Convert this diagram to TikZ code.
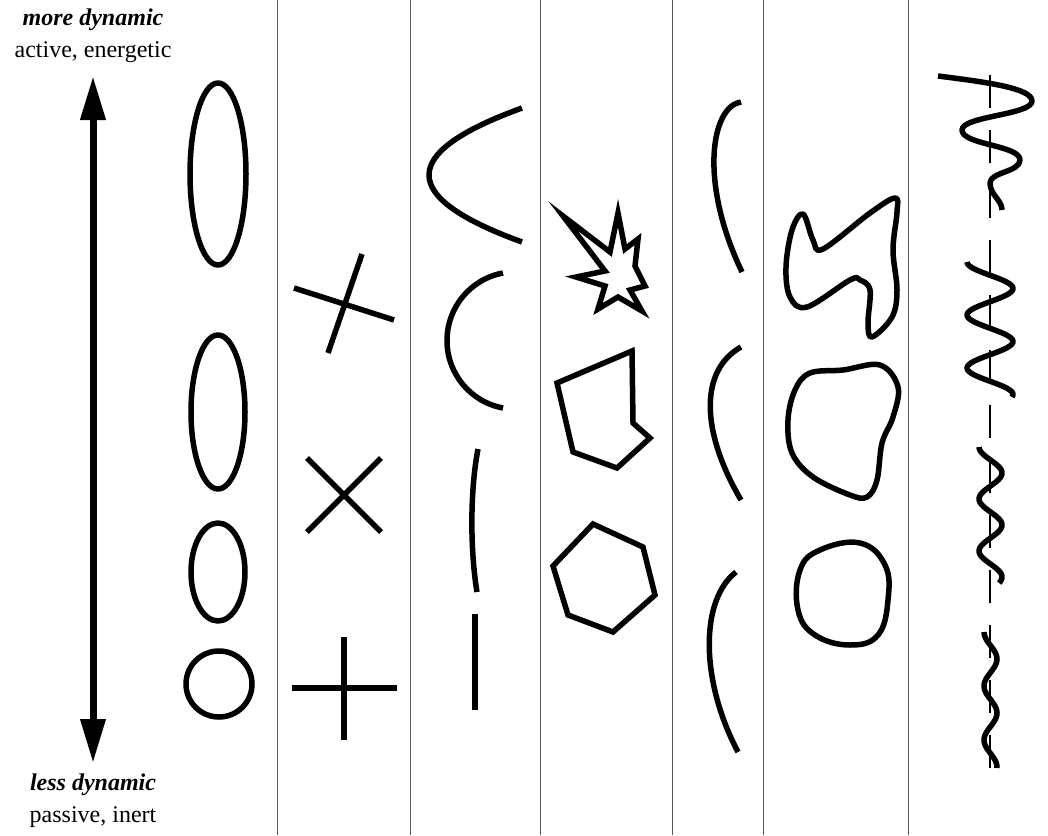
\documentclass[tikz,border=0pt]{standalone}
\usepackage{fontspec}
\setmainfont{Liberation Serif}
\usetikzlibrary{arrows.meta}
\begin{document}
\begin{tikzpicture}[x=1pt,y=-1pt,
  shp/.style={line width=5.5pt, line join=round, line cap=butt},
  poly/.style={line width=5.5pt, line join=miter},
  divider/.style={line width=1pt, draw=black!65},
  lbl/.style={anchor=base, inner sep=0pt, font=\fontsize{24}{28}\selectfont},
  ttl/.style={anchor=base, inner sep=0pt, font=\fontsize{24}{28}\selectfont\bfseries\itshape},
  bigarrow/.style={line width=7pt, {Triangle[length=44pt,width=24pt]}-{Triangle[length=44pt,width=24pt]}},
]
\useasboundingbox (0,0) rectangle (1048,835);
% labels
\node[ttl] (t1) at (93,25) {more dynamic};
\node[lbl] (t2) at (93,57) {active, energetic};
\node[ttl] (b1) at (93,790) {less dynamic};
\node[lbl] (b2) at (93,822) {passive, inert};
% arrow
\coordinate (atop) at (93,76);
\coordinate (abot) at (93,763);
\draw[bigarrow] (atop) -- (abot);
% dividers
\foreach \x in {277,410,540,672,763,908} \draw[divider] (\x,0) -- (\x,835);
% column 1: ellipses
\draw[shp] (218,174) ellipse [x radius=28, y radius=91];
\draw[shp] (218,412) ellipse [x radius=27, y radius=77];
\draw[shp] (218,572) ellipse [x radius=27, y radius=49];
\draw[shp] (219,684) circle [radius=33];
% column 2: crosses
\draw[shp] (294,288) -- (394,320) (362,254) -- (328,353);
\draw[shp] (307,458) -- (381,532) (381,458) -- (307,532);
\draw[shp] (344,637) -- (344,740) (292,688) -- (397,688);
% column 3: curves
\draw[shp] (522,108) .. controls (398,153) and (398,197) .. (522,242);
\draw[shp] (503,273) .. controls (470.5,279) and (447,307.4) .. (447,340.5) .. controls (447,373.6) and (470.5,402) .. (503,408);
\draw[shp] (478,449) .. controls (470,490) and (470,550) .. (477,592);
\draw[shp] (475,614) -- (475,710);
% column 4: polygons
\draw[poly] (563,216) -- (610,252) -- (618,213) -- (625,249) -- (638,239) -- (635,266) -- (645,286) -- (630,290) -- (642,311) -- (618,297) -- (598,309) -- (605,286) -- (576,277) -- (605,271) -- cycle;
\draw[poly] (632,351) -- (557,383) -- (573,452) -- (617,468) -- (650,438) -- (633,423) -- cycle;
\draw[poly] (593,524) -- (643,547) -- (655,595) -- (613,632) -- (568,615) -- (553,566) -- cycle;
% column 5: arcs
\draw[shp] (741,102) .. controls (712,106) and (698,180) .. (742,272);
\draw[shp] (741,347) .. controls (700,370) and (700,430) .. (741,500);
\draw[shp] (736,572) .. controls (700,600) and (700,680) .. (738,752);
% column 6: blobs
\draw[shp] plot[smooth cycle, tension=0.6] coordinates {(803,214) (813,240) (823,249) (870,213) (895,198) (897,212) (893,250) (897,290) (892,317) (872,337) (868,323) (870,290) (860,280) (850,280) (807,307) (790,297) (786,267) (792,230)};
\draw[shp] plot[smooth cycle, tension=0.6] coordinates {(810,373) (843,370) (880,365) (898,387) (893,417) (882,443) (877,480) (867,497) (850,495) (813,477) (792,453) (788,420) (795,390)};
\draw[shp] plot[smooth cycle, tension=0.7] coordinates {(820,550) (860,543) (885,565) (888,600) (878,635) (850,645) (815,635) (798,610) (800,570)};
% column 7: waves
\draw[line width=1.5pt, dash pattern=on 33pt off 22pt] (990,75) -- (990,773);
\draw[shp] (938,76) .. controls (985,82) and (1032,88) .. (1032,101) .. controls (1032,115) and (962,116) .. (962,130) .. controls (962,145) and (1020,145) .. (1020,160) .. controls (1020,172) and (990,172) .. (990,183) .. controls (990,195) and (1002,200) .. (1002,210);
\draw[shp] plot[domain=262:397, samples=90] ({990-23*cos((\x-262)/26.5*180)}, \x);
\draw[shp] plot[domain=447:583, samples=90] ({990.5-11.5*cos((\x-447)/26*180)}, \x);
\draw[shp] plot[domain=632:768, samples=90] ({990.5-6.5*cos((\x-632)/27*180)}, \x);
\end{tikzpicture}
\end{document}
